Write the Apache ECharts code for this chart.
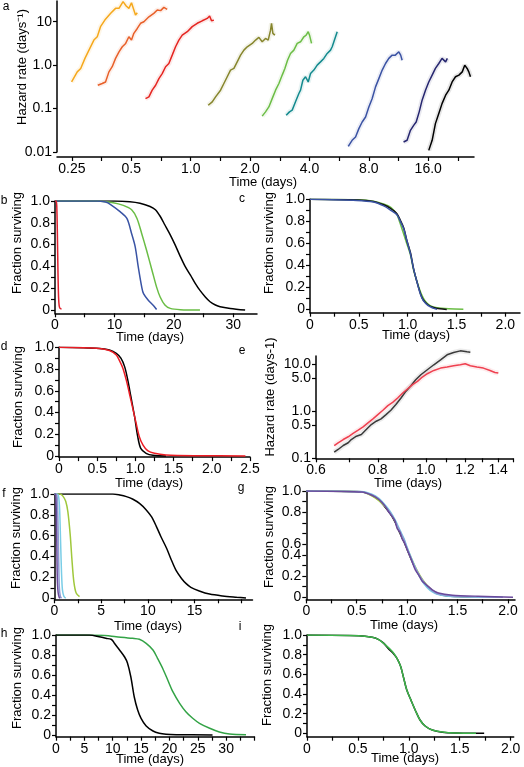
<!DOCTYPE html>
<html><head><meta charset="utf-8">
<script src="https://cdn.jsdelivr.net/npm/echarts@6/dist/echarts.min.js"></script>
<style>html,body{margin:0;padding:0;background:#fff}#c{width:524px;height:767px}</style>
</head><body><div id="c"></div>
<script>
// ---------- Panel a: hazard rate vs time (log-log) ----------
const aXTicks = [0.25,0.3536,0.5,0.7071,1,1.4142,2,2.8284,4,5.6569,8,11.3137,16,22.6274];
const aXLabels = [0.25,0.5,1,2,4,8,16];
const aYTicks = [0.01,0.1,1,10];
const aOrange = [[0.249,0.41],[0.266,0.70],[0.277,0.84],[0.291,1.43],[0.305,2.22],[0.323,3.78],[0.336,4.5],[0.349,7.7],[0.367,10.9],[0.393,15.6],[0.416,20.3],[0.433,20.3],[0.454,29],[0.471,23],[0.486,20.3],[0.501,27.4],[0.515,18.6],[0.525,14.3],[0.536,16.1]];
const aOrangeRed = [[0.338,0.345],[0.356,0.378],[0.370,0.41],[0.385,0.70],[0.400,0.92],[0.416,1.43],[0.433,2.03],[0.450,2.65],[0.468,3.16],[0.486,4.5],[0.501,3.78],[0.515,5.4],[0.536,7.0],[0.557,9.2],[0.579,10],[0.614,13.0],[0.650,15.6],[0.677,18.6],[0.704,18.0],[0.731,21.4],[0.760,19.3]];
const aRed = [[0.590,0.170],[0.614,0.186],[0.638,0.265],[0.664,0.345],[0.690,0.49],[0.717,0.64],[0.746,0.92],[0.775,1.09],[0.806,1.70],[0.838,2.65],[0.871,3.78],[0.906,4.9],[0.961,5.9],[1.018,7.7],[1.079,9.2],[1.144,10.5],[1.213,11.9],[1.247,13.5],[1.275,10.5],[1.311,10.9]];
const aOlive = [[1.227,0.119],[1.286,0.143],[1.337,0.186],[1.417,0.265],[1.473,0.378],[1.532,0.54],[1.592,0.77],[1.656,0.84],[1.721,1.19],[1.790,1.70],[1.861,2.22],[1.935,2.65],[2.051,3.16],[2.132,3.78],[2.216,4.35],[2.304,3.45],[2.395,4.12],[2.471,3.78],[2.540,6.4],[2.569,9.2],[2.610,5.4],[2.672,4.9]];
const aGreen = [[2.304,0.067],[2.395,0.084],[2.490,0.109],[2.610,0.186],[2.693,0.265],[2.800,0.378],[2.910,0.59],[3.002,0.84],[3.097,1.30],[3.206,1.86],[3.334,2.22],[3.467,3.16],[3.605,3.45],[3.748,4.5],[3.850,4.9],[3.942,5.9],[4.003,4.9],[4.098,3.16]];
const aTeal = [[3.048,0.070],[3.168,0.084],[3.270,0.092],[3.399,0.143],[3.535,0.222],[3.605,0.265],[3.704,0.45],[3.821,0.54],[3.942,0.41],[4.051,0.64],[4.211,0.77],[4.378,1.0],[4.551,1.19],[4.731,1.43],[4.920,1.86],[5.116,2.22],[5.216,2.65],[5.319,3.45],[5.423,4.5],[5.530,5.9]];
const aBlue = [[6.29,0.0135],[6.58,0.0186],[6.85,0.0222],[7.12,0.0345],[7.40,0.049],[7.70,0.064],[8.0,0.109],[8.32,0.170],[8.65,0.316],[8.99,0.49],[9.35,0.77],[9.72,1.09],[10.1,1.43],[10.5,1.70],[10.9,1.70],[11.35,2.03],[11.6,1.70],[11.8,1.30]];
const aNavy = [[12.0,0.017],[12.5,0.0186],[13.0,0.0316],[13.5,0.041],[13.9,0.049],[14.4,0.084],[14.9,0.156],[15.5,0.265],[16.1,0.41],[16.75,0.59],[17.4,0.84],[18.1,1.09],[18.8,1.43],[19.2,1.30],[19.6,1.19],[20.0,1.43]];
const aBlack = [[16.1,0.0109],[16.75,0.0186],[17.4,0.045],[18.1,0.077],[18.8,0.130],[19.6,0.203],[20.35,0.265],[21.15,0.41],[22.0,0.54],[22.9,0.59],[23.8,0.70],[24.5,1.0],[25.2,0.84],[25.7,0.70],[26.2,0.54]];

// ---------- common fraction-surviving ticks ----------
const fracTicks = [0,0.1,0.2,0.3,0.4,0.5,0.6,0.7,0.8,0.9,1.0];
const fracLabels = [0,0.2,0.4,0.6,0.8,1.0];

// ---------- Panel b ----------
const bXTicks = [0,5,10,15,20,25,30];
const bXLabels = [0,10,20,30];
const bRed = [[0,1],[0.2,1],[0.3,0.95],[0.4,0.7],[0.5,0.35],[0.6,0.12],[0.7,0.04],[0.85,0.015],[1.1,0.01]];
const bBlue = [[0,1],[7,1],[8.5,0.99],[9.3,0.97],[11.0,0.90],[12.1,0.84],[12.9,0.70],[13.5,0.58],[14.0,0.40],[14.6,0.21],[14.9,0.15],[15.7,0.09],[16.6,0.04],[17.1,0.005]];
const bGreen = [[0,1],[7,1],[9.8,0.985],[11.5,0.96],[12.9,0.92],[13.8,0.84],[14.6,0.70],[15.4,0.55],[16.3,0.37],[17.1,0.21],[17.7,0.12],[18.5,0.046],[19.4,0.015],[21.1,0.003],[24.4,0]];
const bBlack = [[0,1],[10,1],[12.6,0.994],[14.3,0.98],[16.0,0.95],[16.9,0.92],[17.7,0.86],[18.5,0.78],[19.4,0.69],[20.2,0.60],[21.1,0.49],[21.9,0.40],[22.8,0.32],[23.6,0.245],[24.4,0.18],[25.3,0.12],[26.1,0.076],[27.0,0.046],[27.8,0.03],[29.5,0.015],[32.0,0]];

// ---------- Panel c ----------
const dayTicks2 = [0,0.25,0.5,0.75,1.0,1.25,1.5,1.75,2.0];
const dayLabels2 = [0,0.5,1.0,1.5,2.0];
const cBlack = [[0,1],[0.48,0.994],[0.65,0.98],[0.755,0.95],[0.82,0.92],[0.89,0.87],[0.925,0.81],[0.96,0.74],[0.99,0.63],[1.03,0.51],[1.06,0.37],[1.095,0.25],[1.13,0.145],[1.16,0.085],[1.21,0.04],[1.265,0.018],[1.33,0.006],[1.40,0]];
const cGreen = [[0,1],[0.5,0.995],[0.65,0.982],[0.76,0.955],[0.83,0.925],[0.89,0.86],[0.92,0.79],[0.95,0.71],[0.99,0.60],[1.03,0.49],[1.06,0.36],[1.10,0.24],[1.14,0.14],[1.18,0.075],[1.23,0.035],[1.30,0.015],[1.42,0.005],[1.57,0.002]];
const cBlue = [[0,1],[0.48,0.99],[0.65,0.975],[0.755,0.94],[0.82,0.905],[0.89,0.86],[0.925,0.80],[0.96,0.73],[0.99,0.63],[1.03,0.50],[1.06,0.37],[1.095,0.25],[1.13,0.14],[1.16,0.08],[1.21,0.035],[1.26,0.012],[1.30,0]];

// ---------- Panel d ----------
const dXTicks = [0,0.25,0.5,0.75,1.0,1.25,1.5,1.75,2.0,2.25,2.5];
const dXLabels = [0,0.5,1.0,1.5,2.0,2.5];
const dBlack = [[0,1],[0.53,0.99],[0.66,0.975],[0.75,0.945],[0.81,0.90],[0.86,0.82],[0.90,0.70],[0.94,0.55],[0.99,0.36],[1.03,0.18],[1.07,0.07],[1.14,0.025],[1.23,0.006],[1.40,0]];
const dRed = [[0,1],[0.53,0.99],[0.66,0.97],[0.75,0.93],[0.79,0.88],[0.835,0.81],[0.88,0.70],[0.92,0.58],[0.965,0.44],[1.01,0.30],[1.05,0.18],[1.10,0.10],[1.16,0.05],[1.25,0.025],[1.40,0.01],[1.83,0.003],[2.44,0]];

// ---------- Panel e ----------
const eXTicks = [0.6,0.7,0.8,0.9,1.0,1.1,1.2,1.3,1.4,1.5];
const eXLabels = [0.6,0.8,1.0,1.2,1.4];
const eYTicks = [0.1,0.5,1,5,10];
const eBlack = [[0.653,0.135],[0.665,0.154],[0.681,0.187],[0.697,0.214],[0.707,0.251],[0.724,0.295],[0.741,0.321],[0.758,0.409],[0.776,0.523],[0.794,0.614],[0.812,0.690],[0.831,0.851],[0.850,1.05],[0.870,1.39],[0.891,1.92],[0.911,2.65],[0.933,3.50],[0.954,4.70],[0.977,5.99],[1.007,7.64],[1.038,9.76],[1.071,12.45],[1.104,15.9],[1.138,17.8],[1.174,19.3],[1.211,18.4],[1.230,18.1]];
const eRed = [[0.653,0.187],[0.665,0.214],[0.681,0.251],[0.697,0.287],[0.713,0.337],[0.730,0.396],[0.747,0.467],[0.764,0.568],[0.782,0.690],[0.800,0.851],[0.819,1.05],[0.838,1.32],[0.857,1.55],[0.877,1.92],[0.898,2.45],[0.918,2.98],[0.940,3.68],[0.962,4.32],[0.984,5.36],[1.007,6.29],[1.038,7.39],[1.071,8.30],[1.104,8.73],[1.138,9.29],[1.174,9.76],[1.201,10.25],[1.230,9.29],[1.268,8.73],[1.307,8.30],[1.348,7.39],[1.379,6.70],[1.401,6.50]];

// ---------- Panel f ----------
const fXTicks = [0,2.5,5,7.5,10,12.5,15,17.5,20];
const fXLabels = [0,5,10,15];
const fPurple = [[0,1],[0.1,1],[0.15,0.97],[0.2,0.8],[0.25,0.5],[0.3,0.2],[0.38,0.06],[0.5,0.01],[0.6,0]];
const fLavender = [[0,1],[0.2,1],[0.3,0.95],[0.38,0.7],[0.45,0.35],[0.52,0.1],[0.62,0.02],[0.75,0]];
const fCyan = [[0,1],[0.3,1],[0.45,0.97],[0.55,0.85],[0.65,0.55],[0.75,0.25],[0.85,0.08],[1.0,0.02],[1.2,0]];
const fGreen = [[0,1],[0.6,1],[0.9,0.98],[1.2,0.93],[1.43,0.83],[1.68,0.61],[1.86,0.38],[2.07,0.16],[2.32,0.05],[2.68,0.015]];
const fBlack = [[0,1],[6.25,1],[7.0,0.99],[7.7,0.975],[8.4,0.95],[9.1,0.91],[9.8,0.85],[10.4,0.78],[10.9,0.69],[11.4,0.59],[12.0,0.48],[12.5,0.37],[13.0,0.27],[13.6,0.19],[14.1,0.14],[14.6,0.105],[15.5,0.07],[16.6,0.04],[18.0,0.022],[19.5,0.01],[20.5,0.003]];

// ---------- Panel g ----------
const gYLabels = [0,0.2,0.4,0.5,0.8,1.0];
const gBlack = [[0,1],[0.55,0.994],[0.65,0.96],[0.72,0.915],[0.78,0.85],[0.83,0.79],[0.88,0.71],[0.93,0.60],[0.97,0.52],[1.0,0.45],[1.05,0.335],[1.10,0.24],[1.15,0.16],[1.2,0.10],[1.25,0.06],[1.31,0.03],[1.41,0.012],[1.55,0.006],[1.7,0]];
const gGreen = [[0,1],[0.55,0.99],[0.65,0.955],[0.72,0.91],[0.78,0.855],[0.83,0.80],[0.88,0.72],[0.93,0.61],[0.97,0.53],[1.0,0.46],[1.05,0.35],[1.10,0.25],[1.15,0.17],[1.2,0.11],[1.25,0.065],[1.31,0.035],[1.41,0.015],[1.6,0.005],[1.85,0]];
const gCyan = [[0,1],[0.55,0.995],[0.65,0.97],[0.72,0.93],[0.78,0.87],[0.83,0.81],[0.88,0.73],[0.93,0.63],[0.97,0.55],[1.0,0.47],[1.05,0.35],[1.10,0.24],[1.15,0.15],[1.2,0.09],[1.25,0.05],[1.31,0.025],[1.41,0.01],[1.6,0.003],[1.9,0]];
const gLavender = [[0,1],[0.55,0.99],[0.65,0.965],[0.72,0.925],[0.78,0.86],[0.83,0.80],[0.88,0.72],[0.93,0.62],[0.97,0.54],[1.0,0.46],[1.05,0.34],[1.10,0.245],[1.15,0.165],[1.2,0.105],[1.25,0.06],[1.31,0.03],[1.45,0.012],[1.7,0.004],[1.95,0]];
const gPurple = [[0,1],[0.55,0.99],[0.65,0.96],[0.72,0.92],[0.78,0.86],[0.82,0.80],[0.86,0.75],[0.88,0.72],[0.90,0.65],[0.93,0.61],[0.95,0.55],[0.97,0.52],[1.0,0.45],[1.04,0.36],[1.08,0.26],[1.12,0.20],[1.15,0.15],[1.2,0.11],[1.25,0.07],[1.31,0.04],[1.45,0.02],[1.7,0.01],[2.05,0]];

// ---------- Panel h ----------
const hXTicks = [0,2.5,5,7.5,10,12.5,15,17.5,20,22.5,25,27.5,30,32.5,35];
const hXLabels = [0,5,10,15,20,25,30];
const hBlack = [[0,1],[5.9,1],[7.6,0.983],[8.8,0.967],[9.7,0.957],[10.0,0.943],[10.3,0.917],[11.2,0.85],[12.1,0.78],[12.6,0.72],[13.2,0.58],[13.8,0.38],[14.4,0.25],[15.0,0.167],[15.9,0.09],[17.1,0.04],[18.2,0.017],[19.4,0.007],[21.2,0.003],[27.6,0]];
const hGreen = [[0,1],[5,1],[8,0.997],[10.6,0.983],[13.5,0.967],[14.7,0.957],[15.9,0.917],[17.1,0.85],[17.9,0.767],[18.8,0.667],[19.7,0.55],[20.6,0.433],[21.8,0.317],[22.9,0.233],[24.1,0.167],[25.3,0.117],[27.1,0.067],[28.8,0.03],[30.6,0.01],[33.5,0.003]];

// ---------- Panel i ----------
const iGreen = [[0,1],[0.51,0.993],[0.64,0.976],[0.70,0.956],[0.77,0.90],[0.84,0.83],[0.885,0.76],[0.92,0.68],[0.95,0.56],[0.98,0.44],[1.02,0.34],[1.07,0.22],[1.11,0.136],[1.16,0.075],[1.23,0.034],[1.33,0.014],[1.46,0.003],[1.66,0]];
const iBlack = [[0,1],[0.51,0.993],[0.64,0.976],[0.70,0.955],[0.75,0.92],[0.80,0.86],[0.85,0.81],[0.885,0.76],[0.92,0.68],[0.95,0.56],[0.98,0.44],[1.02,0.34],[1.07,0.22],[1.11,0.136],[1.16,0.075],[1.23,0.034],[1.33,0.012],[1.46,0.004],[1.62,0.002],[1.74,0.002]];

// ====================================================
const FONT = '"Liberation Sans", Arial, sans-serif';
const grids = [], xAxes = [], yAxes = [], series = [];
const fracFmt = v => (v === 0 ? '0' : v.toFixed(1));
const dayFmt = v => (v === 0 ? '0' : v.toFixed(1));
const intFmt = v => String(v);

function axis(o, isX) {
  return {
    gridIndex: o.i, type: o.type || 'value', logBase: o.base || 10,
    min: o.min, max: o.max, offset: o.offset || 0,
    position: isX ? 'bottom' : 'left',
    axisLine: { show: true, onZero: false, lineStyle: { color: '#000', width: 1.5 } },
    axisTick: { show: true, inside: false, length: 4, customValues: o.ticks, lineStyle: { color: '#000', width: 1.2 } },
    axisLabel: { show: true, customValues: o.labels, formatter: o.fmt, color: '#000', fontSize: 14, fontFamily: FONT, margin: 5 },
    splitLine: { show: false }, minorTick: { show: false }
  };
}
function panel(p) {
  const i = grids.length;
  grids.push({ left: p.g[0], top: p.g[1], width: p.g[2], height: p.g[3], containLabel: false });
  xAxes.push(axis(Object.assign({ i }, p.x), true));
  yAxes.push(axis(Object.assign({ i }, p.y), false));
  p.lines.forEach(l => {
    if (l.band) {
      series.push({ type: 'line', xAxisIndex: i, yAxisIndex: i, data: l.data, symbol: 'none', silent: true, clip: p.clip !== false,
        smooth: l.smooth || 0, lineStyle: { color: l.color, width: 5, opacity: 0.1 }, z: 1 });
    }
    series.push({ type: 'line', xAxisIndex: i, yAxisIndex: i, data: l.data, symbol: 'none', silent: true, clip: p.clip !== false,
      smooth: l.smooth || 0, lineStyle: { color: l.color, width: l.w || 1.5 }, z: 2 });
  });
}

// a
panel({ g: [57, 1, 417, 151],
  x: { type: 'log', base: 2, min: 0.21, max: 27.3, offset: 5, ticks: aXTicks, labels: aXLabels, fmt: v => (v < 1 ? String(v) : v.toFixed(1)) },
  y: { type: 'log', base: 10, min: 0.01, max: 30, ticks: aYTicks, labels: aYTicks, fmt: v => (v === 1 ? '1.0' : String(v)) },
  lines: [
    { data: aOrange, color: '#F5A81C', band: true }, { data: aOrangeRed, color: '#E8602A', band: true },
    { data: aRed, color: '#E52521', band: true }, { data: aOlive, color: '#86852C', band: true },
    { data: aGreen, color: '#6BBD45', band: true }, { data: aTeal, color: '#138A8E', band: true },
    { data: aBlue, color: '#3A52A3', band: true }, { data: aNavy, color: '#26266F', band: true },
    { data: aBlack, color: '#000000', band: true }
  ] });
// b
panel({ g: [55, 201, 202, 112.3],
  x: { min: 0, max: 34, ticks: bXTicks, labels: bXLabels, fmt: intFmt },
  y: { min: -0.03, max: 1, ticks: fracTicks, labels: fracLabels, fmt: fracFmt },
  lines: [
    { data: bBlack, color: '#000', smooth: 0.3 }, { data: bGreen, color: '#6ABD45', smooth: 0.3 },
    { data: bBlue, color: '#3953A4', smooth: 0.3 }, { data: bRed, color: '#E0202E', smooth: 0.3 }
  ] });
// c
panel({ g: [310, 199.3, 210, 113.4],
  x: { min: 0, max: 2.15, ticks: dayTicks2, labels: dayLabels2, fmt: dayFmt },
  y: { min: -0.03, max: 1, ticks: fracTicks, labels: fracLabels, fmt: fracFmt },
  lines: [
    { data: cGreen, color: '#6ABD45', smooth: 0.3 }, { data: cBlack, color: '#111', smooth: 0.3 },
    { data: cBlue, color: '#3953A4', smooth: 0.3 }
  ] });
// d
panel({ g: [59, 347.3, 191, 109.8],
  x: { min: 0, max: 2.5, ticks: dXTicks, labels: dXLabels, fmt: dayFmt },
  y: { min: -0.01, max: 1, ticks: fracTicks, labels: fracLabels, fmt: fracFmt },
  lines: [ { data: dBlack, color: '#000', smooth: 0.3 }, { data: dRed, color: '#EC1C24', smooth: 0.3 } ] });
// e
panel({ g: [316, 356, 197, 102.3], clip: false,
  x: { type: 'log', base: 10, min: 0.6, max: 1.5, ticks: eXTicks, labels: eXLabels, fmt: v => v.toFixed(1) },
  y: { type: 'log', base: 10, min: 0.1, max: 15, ticks: eYTicks, labels: eYTicks, fmt: v => v.toFixed(1) },
  lines: [ { data: eBlack, color: '#3a3a3a', band: true }, { data: eRed, color: '#EF4050', band: true } ] });
// f
panel({ g: [54.5, 494, 198, 105.3],
  x: { min: 0, max: 21.2, ticks: fXTicks, labels: fXLabels, fmt: intFmt },
  y: { min: -0.01, max: 1, ticks: fracTicks, labels: fracLabels, fmt: fracFmt },
  lines: [
    { data: fBlack, color: '#000', smooth: 0.3 }, { data: fGreen, color: '#A0C83C', smooth: 0.3 },
    { data: fCyan, color: '#79CDE6', smooth: 0.3 }, { data: fLavender, color: '#8E9BD3', smooth: 0.3 },
    { data: fPurple, color: '#6A4A9C', smooth: 0.3 }
  ] });
// g
panel({ g: [306.3, 491, 208.7, 108.4],
  x: { min: 0, max: 2.07, ticks: dayTicks2, labels: dayLabels2, fmt: dayFmt },
  y: { min: -0.02, max: 1, ticks: fracTicks, labels: gYLabels, fmt: v => (v === 0 ? '0' : v === 0.5 ? '0.6' : v.toFixed(1)) },
  lines: [
    { data: gBlack, color: '#000', smooth: 0.3 }, { data: gGreen, color: '#A0C83C', smooth: 0.3 },
    { data: gCyan, color: '#79CDE6', smooth: 0.3 }, { data: gLavender, color: '#8E9BD3', smooth: 0.3 },
    { data: gPurple, color: '#6A4A9C', smooth: 0.2 }
  ] });
// h
panel({ g: [56, 635, 198.5, 101.7],
  x: { min: 0, max: 35, ticks: hXTicks, labels: hXLabels, fmt: intFmt },
  y: { min: -0.017, max: 1, ticks: fracTicks, labels: fracLabels, fmt: fracFmt },
  lines: [ { data: hGreen, color: '#33A346', smooth: 0.3 }, { data: hBlack, color: '#000', smooth: 0.3 } ] });
// i
panel({ g: [307, 635, 206.7, 101.7],
  x: { min: 0, max: 2.03, ticks: dayTicks2, labels: dayLabels2, fmt: dayFmt },
  y: { min: -0.034, max: 1, ticks: fracTicks, labels: fracLabels, fmt: fracFmt },
  lines: [ { data: iBlack, color: '#000', smooth: 0.3 }, { data: iGreen, color: '#3DB54A', smooth: 0.3 } ] });

// ---------- text: panel letters and axis titles ----------
function txt(s, x, y, rot, size) {
  return { type: 'text', x: x, y: y, rotation: rot || 0, silent: true,
    style: { text: s, x: 0, y: 0, fill: '#000', font: (size || 13) + 'px ' + FONT,
      align: 'center', verticalAlign: 'middle', textAlign: 'center', textVerticalAlign: 'middle' } };
}
const R = Math.PI / 2;
const graphics = [
  txt('a', 6, 7, 0, 12), txt('b', 4, 201, 0, 12), txt('c', 242, 199, 0, 12), txt('d', 4, 347, 0, 12),
  txt('e', 242, 351, 0, 12), txt('f', 4, 494, 0, 12), txt('g', 241, 488, 0, 12), txt('h', 4, 634, 0, 12), txt('i', 240, 627, 0, 12),
  txt('Hazard rate (days\u207B\u00B9)', 22, 67, R), txt('Time (days)', 263, 182),
  txt('Fraction surviving', 17, 243, R), txt('Time (days)', 150, 337),
  txt('Fraction surviving', 269, 243, R), txt('Time (days)', 416, 335),
  txt('Fraction surviving', 18, 397, R), txt('Time (days)', 149, 483),
  txt('Hazard rate (days-1)', 270, 397, R), txt('Time (days)', 408, 483),
  txt('Fraction surviving', 16, 538, R), txt('Time (days)', 148, 626),
  txt('Fraction surviving', 269, 537, R), txt('Time (days)', 404, 625),
  txt('Fraction surviving', 17, 678, R), txt('Time (days)', 150, 759),
  txt('Fraction surviving', 267, 675, R), txt('Time (days)', 405, 758)
];

const chart = echarts.init(document.getElementById('c'), null, { renderer: 'canvas' });
chart.setOption({
  animation: false, backgroundColor: '#fff',
  grid: grids, xAxis: xAxes, yAxis: yAxes, series: series, graphic: graphics
});
</script></body></html>
